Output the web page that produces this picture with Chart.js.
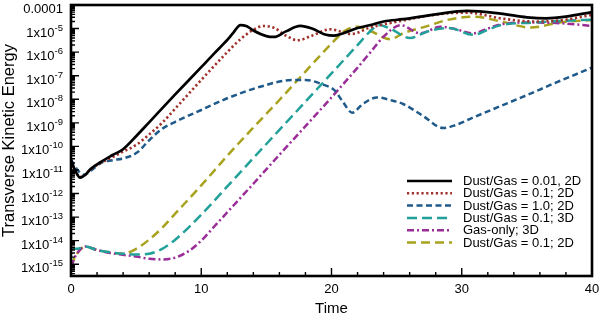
<!DOCTYPE html>
<html>
<head>
<meta charset="utf-8">
<script src="https://cdn.jsdelivr.net/npm/chart.js@4.4.1/dist/chart.umd.min.js"></script>
<style>
  html, body { margin: 0; padding: 0; background: #fff; }
  #wrap { width: 600px; height: 316px; }
</style>
</head>
<body>
<div id="wrap"><canvas id="chart" width="600" height="316"></canvas></div>
<script>
// values (time, transverse kinetic energy)
const seriesNames = [
  "Dust/Gas = 0.01, 2D",
  "Dust/Gas = 0.1; 2D",
  "Dust/Gas = 1.0; 2D",
  "Dust/Gas = 0.1; 3D",
  "Gas-only; 3D",
  "Dust/Gas = 0.1; 2D"
];

const timeBlack   = [0, 0.3, 0.7, 1.1, 1.5, 2.3, 3.2, 4, 5, 6, 8, 10, 11, 12, 12.5, 13, 13.5, 14, 15, 15.6, 16.5, 17.6, 18.5, 19.5, 20.2, 21, 22, 23, 24, 25.5, 28, 30.4, 33, 35, 36.5, 38, 40];
const energyBlack = [2.5e-11, 1e-11, 4.7e-12, 6.3e-12, 1.1e-11, 2.2e-11, 4.3e-11, 7.6e-11, 2.7e-10, 1.05e-9, 1.6e-8, 2.3e-7, 8.9e-7, 3.3e-6, 7.1e-6, 1.41e-5, 1.26e-5, 8.3e-6, 4.8e-6, 4.4e-6, 7.6e-6, 1.29e-5, 1e-5, 5.6e-6, 5e-6, 6.6e-6, 1.05e-5, 1.41e-5, 2e-5, 2.5e-5, 4e-5, 5.6e-5, 4.3e-5, 3e-5, 2.7e-5, 3.2e-5, 5e-5];

const timeRed   = [0, 0.3, 0.7, 1.1, 1.5, 2.3, 3.2, 4, 5, 6, 7, 8, 10, 12, 13, 14, 14.8, 15.6, 16.5, 17.4, 18.5, 19.9, 21.5, 23, 25.3, 27, 29, 30.5, 33, 35.5, 37.5, 40];
const energyRed = [2.5e-11, 1e-11, 5e-12, 6.3e-12, 1.05e-11, 2e-11, 3.5e-11, 6e-11, 1.15e-10, 3.2e-10, 1e-9, 4e-9, 6.6e-8, 1e-6, 3.5e-6, 8.9e-6, 1.29e-5, 1.07e-5, 5e-6, 3.2e-6, 5e-6, 9.3e-6, 5.9e-6, 1.12e-5, 2.1e-5, 3.2e-5, 4.5e-5, 4.7e-5, 2.7e-5, 2e-5, 2.2e-5, 3.8e-5];

const timeBlue   = [0, 0.5, 1.0, 1.6, 2.3, 3.2, 4.1, 5.1, 5.9, 7, 8, 10, 12, 14.6, 17, 18, 19.4, 20.2, 20.8, 21.6, 22.4, 23.5, 24.5, 25.5, 27, 28.6, 29.5, 31, 33, 35, 37, 40];
const energyBlue = [2.8e-11, 1e-11, 6.3e-12, 1e-11, 2e-11, 2.6e-11, 3.2e-11, 5.6e-11, 1.6e-10, 5.6e-10, 1.1e-9, 3.5e-9, 1.1e-8, 3.5e-8, 6.6e-8, 6.6e-8, 4.1e-8, 2.5e-8, 9e-9, 2.7e-9, 6.3e-9, 1.2e-8, 9.3e-9, 6.3e-9, 2e-9, 6e-10, 7.9e-10, 1.8e-9, 5.2e-9, 1.5e-8, 4.5e-8, 2.2e-7];

const timeTeal   = [0, 0.5, 1.1, 2, 3, 4, 5, 6, 7, 8, 9, 10, 12, 14, 16, 18, 20, 21, 22, 23, 23.6, 24.5, 26, 27.5, 29, 30.9, 32, 33, 35.5, 37.5, 40];
const energyTeal = [4.5e-15, 4.5e-15, 5.6e-15, 4e-15, 3.2e-15, 2.8e-15, 2.6e-15, 2.8e-15, 4.5e-15, 1.1e-14, 3.5e-14, 1.26e-13, 2e-12, 3.2e-11, 5e-10, 7.9e-9, 1.26e-7, 5e-7, 2e-6, 7.9e-6, 1.4e-5, 1e-5, 4e-6, 7.9e-6, 1.05e-5, 5.4e-6, 8.9e-6, 1.4e-5, 1.8e-5, 2.1e-5, 2.4e-5];

const timePurple   = [0, 0.4, 1.1, 2, 3, 4, 5, 6, 7, 8, 9, 10, 11, 12, 14, 16, 18, 20, 22, 23, 24, 25.3, 26.8, 28.4, 29.5, 30.9, 32, 33, 35, 37.5, 40];
const energyPurple = [7.9e-16, 2.5e-15, 5.6e-15, 4e-15, 3e-15, 2.5e-15, 2.1e-15, 1.7e-15, 1.6e-15, 1.9e-15, 3.5e-15, 1e-14, 4e-14, 1.6e-13, 2.6e-12, 4.4e-11, 7.2e-10, 1.2e-8, 2.2e-7, 1e-6, 4.5e-6, 1.4e-5, 6.3e-6, 1.2e-5, 9.5e-6, 6.3e-6, 1e-5, 1.5e-5, 1.8e-5, 1.7e-5, 1.3e-5];

const timeOlive   = [0, 0.4, 1.1, 2, 3, 4, 5, 6, 7, 8, 10, 12, 14, 16, 18, 20, 21, 22, 23, 24.5, 25.5, 27.4, 29, 30.9, 33, 35.3, 37.5, 40];
const energyOlive = [7.9e-16, 2.5e-15, 5.6e-15, 4e-15, 3.2e-15, 2.8e-15, 4.5e-15, 1.1e-14, 3.5e-14, 1.4e-13, 2.2e-12, 4e-11, 6.3e-10, 9.3e-9, 1.5e-7, 2.3e-6, 7.9e-6, 1.2e-5, 7.9e-6, 3.5e-6, 6.3e-6, 1.3e-5, 2.4e-5, 3.2e-5, 2e-5, 1.1e-5, 1.8e-5, 2.3e-5];

const xTickValues = [0, 10, 20, 30, 40];
const xTickLabels = ["0", "10", "20", "30", "40"];
const yTickValues = [1e-4, 1e-5, 1e-6, 1e-7, 1e-8, 1e-9, 1e-10, 1e-11, 1e-12, 1e-13, 1e-14, 1e-15];
const yTickLabels = ["0.0001", "1x10^-5", "1x10^-6", "1x10^-7", "1x10^-8", "1x10^-9", "1x10^-10", "1x10^-11", "1x10^-12", "1x10^-13", "1x10^-14", "1x10^-15"];

const FONT = '"Liberation Sans", Arial, Helvetica, sans-serif';

const toPoints = (ts, vs) => ts.map((t, i) => ({ x: t, y: vs[i] }));

const styles = [
  { color: "#000000", dash: [],           width: 2.7 },
  { color: "#a0302a", dash: [2.2, 2.6],   width: 2.6 },
  { color: "#1f5a8a", dash: [6, 3.5],     width: 2.5 },
  { color: "#22a09a", dash: [10, 5],      width: 2.5 },
  { color: "#9a2d98", dash: [7, 3, 2, 3], width: 2.5 },
  { color: "#a8a21e", dash: [9, 5],       width: 2.5 }
];
const series = [
  toPoints(timeBlack, energyBlack),
  toPoints(timeRed, energyRed),
  toPoints(timeBlue, energyBlue),
  toPoints(timeTeal, energyTeal),
  toPoints(timePurple, energyPurple),
  toPoints(timeOlive, energyOlive)
];

// ticks pointing into the plot, frame, tick labels and the inset legend
const axisDecor = {
  id: "axisDecor",
  afterDraw(chart) {
    const { ctx, chartArea: a, scales: { x, y } } = chart;
    ctx.save();
    ctx.strokeStyle = "#000";
    ctx.lineWidth = 1.4;
    ctx.beginPath();
    for (let t = 0; t <= 40; t += 2) {
      const px = x.getPixelForValue(t);
      const len = t % 10 === 0 ? 8 : 4;
      ctx.moveTo(px, a.bottom);
      ctx.lineTo(px, a.bottom - len);
    }
    for (let e = -16; e <= -4; e++) {
      for (let m = 1; m <= 9; m++) {
        const v = m * Math.pow(10, e);
        if (v < y.min * 0.999 || v > y.max * 1.001) continue;
        const py = y.getPixelForValue(v);
        const len = m === 1 ? 8 : 4;
        ctx.moveTo(a.left, py);
        ctx.lineTo(a.left + len, py);
      }
    }
    ctx.stroke();

    ctx.lineWidth = 2.6;
    ctx.strokeRect(a.left, a.top, a.right - a.left, a.bottom - a.top);

    ctx.fillStyle = "#000";
    ctx.textBaseline = "alphabetic";
    ctx.font = "13px " + FONT;
    ctx.textAlign = "center";
    xTickValues.forEach((v, i) => {
      ctx.fillText(xTickLabels[i], x.getPixelForValue(v), a.bottom + 17);
    });

    const right = a.left - 8;
    yTickValues.forEach((v, i) => {
      const py = y.getPixelForValue(v);
      const [base, sup] = yTickLabels[i].split("^");
      ctx.textAlign = "right";
      if (sup) {
        ctx.font = "9.5px " + FONT;
        const sw = ctx.measureText(sup).width;
        ctx.fillText(sup, right, py + 2);
        ctx.font = "13px " + FONT;
        ctx.fillText(base, right - sw, py + 8);
      } else {
        ctx.font = "13px " + FONT;
        ctx.fillText(base, right, py + 8);
      }
    });

    // legend
    ctx.font = "13px " + FONT;
    ctx.textAlign = "left";
    ctx.textBaseline = "middle";
    chart.data.datasets.forEach((ds, i) => {
      const ly = 181 + i * 12.3;
      ctx.save();
      ctx.strokeStyle = ds.borderColor;
      ctx.lineWidth = ds.borderWidth;
      ctx.setLineDash(ds.borderDash);
      ctx.beginPath();
      ctx.moveTo(407, ly);
      ctx.lineTo(452, ly);
      ctx.stroke();
      ctx.restore();
      ctx.fillText(ds.label, 463, ly + 0.5);
    });
    ctx.restore();
  }
};

new Chart(document.getElementById("chart"), {
  type: "line",
  data: {
    datasets: series.map((pts, i) => ({
      label: seriesNames[i],
      data: pts,
      borderColor: styles[i].color,
      borderDash: styles[i].dash,
      borderWidth: styles[i].width,
      pointRadius: 0,
      fill: false,
      cubicInterpolationMode: "monotone"
    }))
  },
  options: {
    responsive: false,
    animation: false,
    devicePixelRatio: 1,
    layout: { padding: { top: 5, right: 8, left: 0, bottom: 0 } },
    plugins: { legend: { display: false }, tooltip: { enabled: false } },
    scales: {
      x: {
        type: "linear",
        min: 0,
        max: 40,
        grid: { display: false },
        border: { display: false },
        ticks: { display: false },
        title: { display: true, text: "Time", color: "#000", padding: 0,
                 font: { family: FONT, size: 15, lineHeight: 1 } },
        afterFit: s => { s.height = 40; }
      },
      y: {
        type: "logarithmic",
        min: Math.pow(10, -15.5),
        max: 1e-4,
        grid: { display: false },
        border: { display: false },
        ticks: { display: false },
        title: { display: true, text: "Transverse Kinetic Energy", color: "#000", padding: 0,
                 font: { family: FONT, size: 16.5, lineHeight: 1.2 } },
        afterFit: s => { s.width = 71; }
      }
    }
  },
  plugins: [axisDecor]
});
</script>
</body>
</html>
